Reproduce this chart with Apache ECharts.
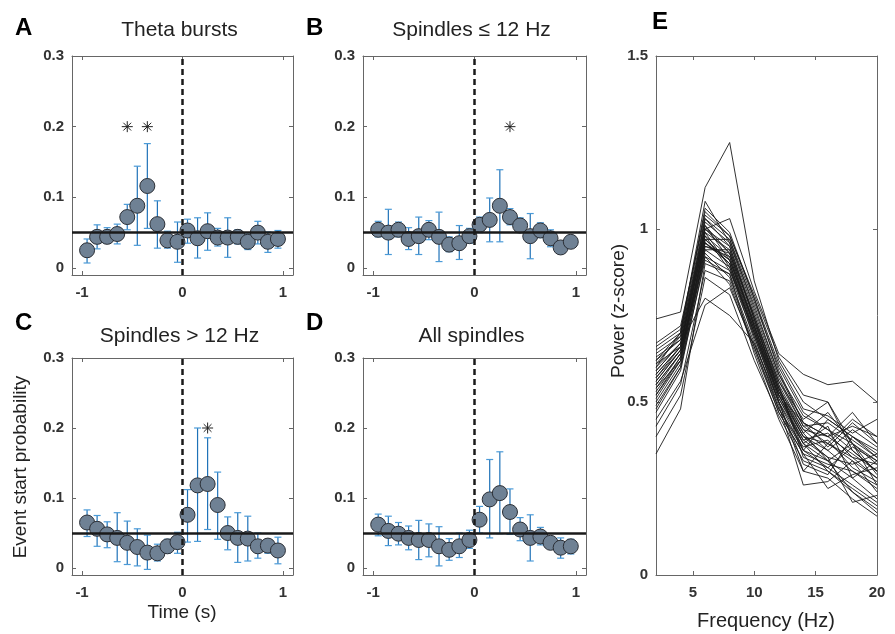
<!DOCTYPE html>
<html>
<head>
<meta charset="utf-8">
<title>Event start probability</title>
<script src="https://cdn.jsdelivr.net/npm/echarts@6/dist/echarts.min.js"></script>
<style>
    html, body { margin:0; padding:0; background:#fff; }
    #main { width:895px; height:634px; }
</style>
</head>
<body>
<div id="main"></div>
<script>
// time bins (s) shared by panels A-D
var timeBins = [-0.95,-0.85,-0.75,-0.65,-0.55,-0.45,-0.35,-0.25,-0.15,-0.05,0.05,0.15,0.25,0.35,0.45,0.55,0.65,0.75,0.85,0.95];

// A - theta bursts
var thetaMean = [0.025,0.044,0.044,0.048,0.072,0.088,0.116,0.062,0.039,0.037,0.053,0.042,0.052,0.043,0.043,0.044,0.037,0.050,0.037,0.041];
var thetaLow  = [0.007,0.027,0.035,0.034,0.054,0.032,0.056,0.028,0.028,0.008,0.035,0.014,0.025,0.031,0.015,0.034,0.026,0.034,0.022,0.028];
var thetaHigh = [0.041,0.061,0.057,0.062,0.090,0.144,0.176,0.095,0.052,0.065,0.069,0.071,0.078,0.056,0.071,0.054,0.048,0.066,0.051,0.053];
var thetaStars = [-0.55,-0.35];

// B - spindles <= 12 Hz
var slowMean = [0.054,0.050,0.054,0.041,0.045,0.054,0.044,0.033,0.035,0.045,0.061,0.068,0.088,0.072,0.060,0.045,0.053,0.042,0.029,0.037];
var slowLow  = [0.044,0.019,0.044,0.026,0.019,0.040,0.009,0.023,0.012,0.035,0.050,0.037,0.037,0.061,0.050,0.013,0.043,0.030,0.022,0.030];
var slowHigh = [0.066,0.083,0.065,0.057,0.072,0.067,0.079,0.044,0.060,0.056,0.072,0.099,0.139,0.084,0.071,0.077,0.064,0.054,0.037,0.044];
var slowStars = [0.35];

// C - spindles > 12 Hz
var fastMean = [0.065,0.056,0.048,0.043,0.036,0.030,0.022,0.021,0.031,0.037,0.076,0.118,0.120,0.090,0.050,0.043,0.042,0.031,0.032,0.025];
var fastLow  = [0.045,0.031,0.029,0.009,0.005,0.003,-0.002,0.010,0.021,0.021,0.037,0.038,0.055,0.041,0.026,0.008,0.010,0.014,0.021,0.006];
var fastHigh = [0.083,0.075,0.066,0.079,0.067,0.056,0.047,0.034,0.041,0.051,0.112,0.200,0.186,0.137,0.073,0.079,0.074,0.050,0.040,0.044];
var fastStars = [0.25];

// D - all spindles
var allMean = [0.062,0.053,0.049,0.043,0.040,0.040,0.031,0.026,0.031,0.040,0.069,0.098,0.107,0.080,0.055,0.043,0.045,0.036,0.029,0.031];
var allLow  = [0.046,0.032,0.033,0.026,0.012,0.016,0.003,0.011,0.015,0.028,0.050,0.043,0.049,0.048,0.039,0.010,0.033,0.029,0.014,0.020];
var allHigh = [0.077,0.074,0.065,0.060,0.068,0.063,0.059,0.042,0.050,0.054,0.088,0.155,0.166,0.113,0.072,0.076,0.058,0.041,0.043,0.041];
var allStars = [];

var chanceLevel = 0.05;

// E - power spectra, one line per recording
var freqs = [2,4,6,8,10,12,14,16,18,20];
var spectra = [
    [0.58,0.66,0.98,0.92,0.72,0.52,0.40,0.38,0.33,0.28],
    [0.62,0.68,1.00,0.95,0.75,0.55,0.42,0.36,0.30,0.25],
    [0.55,0.64,0.96,0.90,0.70,0.50,0.38,0.43,0.28,0.33],
    [0.74,0.76,1.12,1.25,0.85,0.62,0.50,0.45,0.40,0.35],
    [0.60,0.70,1.08,0.96,0.78,0.58,0.44,0.40,0.35,0.30],
    [0.52,0.62,0.95,0.93,0.73,0.54,0.41,0.33,0.38,0.26],
    [0.48,0.60,0.94,0.89,0.68,0.48,0.36,0.33,0.28,0.22],
    [0.65,0.70,1.03,0.97,0.79,0.60,0.47,0.42,0.38,0.33],
    [0.57,0.65,0.92,0.88,0.70,0.52,0.38,0.30,0.25,0.20],
    [0.45,0.56,0.78,0.83,0.66,0.47,0.35,0.32,0.30,0.26],
    [0.40,0.52,0.86,0.81,0.62,0.46,0.33,0.30,0.24,0.18],
    [0.35,0.48,0.90,0.87,0.64,0.45,0.30,0.28,0.22,0.17],
    [0.63,0.68,1.00,1.03,0.82,0.64,0.58,0.55,0.56,0.50],
    [0.59,0.67,0.99,0.94,0.74,0.56,0.45,0.50,0.36,0.30],
    [0.53,0.63,0.97,0.91,0.71,0.51,0.39,0.41,0.34,0.32],
    [0.50,0.61,0.93,0.86,0.67,0.49,0.26,0.27,0.33,0.24],
    [0.56,0.65,1.01,0.93,0.72,0.53,0.40,0.36,0.42,0.37],
    [0.61,0.69,1.02,0.96,0.76,0.57,0.43,0.44,0.39,0.34],
    [0.54,0.64,0.96,0.90,0.69,0.50,0.30,0.38,0.45,0.40],
    [0.66,0.71,1.05,0.98,0.80,0.61,0.48,0.46,0.41,0.45],
    [0.47,0.59,0.92,0.84,0.65,0.47,0.35,0.25,0.29,0.31],
    [0.58,0.66,0.98,0.88,0.71,0.52,0.39,0.34,0.21,0.23],
    [0.51,0.62,0.94,0.94,0.74,0.54,0.42,0.40,0.43,0.40],
    [0.64,0.69,1.01,0.91,0.73,0.55,0.34,0.31,0.37,0.33],
    [0.43,0.55,0.88,0.85,0.66,0.48,0.37,0.39,0.31,0.27],
    [0.60,0.67,0.97,0.97,0.77,0.58,0.46,0.42,0.36,0.30],
    [0.57,0.66,1.03,0.95,0.74,0.53,0.41,0.47,0.38,0.29],
    [0.55,0.64,0.99,0.89,0.70,0.51,0.38,0.33,0.24,0.19],
    [0.62,0.70,1.06,0.99,0.80,0.59,0.44,0.37,0.44,0.38],
    [0.52,0.63,0.95,0.92,0.72,0.53,0.40,0.34,0.32,0.35],
    [0.59,0.67,0.80,0.75,0.67,0.50,0.36,0.31,0.26,0.21],
    [0.49,0.60,0.91,0.87,0.69,0.50,0.32,0.29,0.40,0.36],
    [0.67,0.72,1.04,0.98,0.81,0.63,0.52,0.50,0.38,0.32],
    [0.54,0.62,0.97,0.90,0.71,0.52,0.44,0.40,0.47,0.38],
    [0.61,0.66,1.00,0.93,0.75,0.56,0.43,0.38,0.34,0.28],
    [0.56,0.65,0.96,0.91,0.72,0.54,0.36,0.45,0.40,0.34]
];

var FONT = '"Liberation Sans", Arial, sans-serif';
var panels = [
    {letter:'A', title:'Theta bursts',      mean:thetaMean, low:thetaLow, high:thetaHigh, stars:thetaStars, grid:{left:72,  top:56,  width:221, height:219}},
    {letter:'B', title:'Spindles \u2264 12 Hz', mean:slowMean, low:slowLow, high:slowHigh, stars:slowStars, grid:{left:363, top:56,  width:223, height:219}},
    {letter:'C', title:'Spindles > 12 Hz',  mean:fastMean, low:fastLow, high:fastHigh, stars:fastStars, grid:{left:72,  top:358, width:221, height:217}},
    {letter:'D', title:'All spindles',      mean:allMean, low:allLow, high:allHigh, stars:allStars, grid:{left:363, top:358, width:223, height:217}}
];

function errItem(params, api) {
    var x = api.value(0);
    var lo = api.coord([x, api.value(1)]);
    var hi = api.coord([x, api.value(2)]);
    var w = 3.5;
    return {type:'group', children:[
        {type:'line', shape:{x1:lo[0], y1:lo[1], x2:hi[0], y2:hi[1]}, style:{stroke:'#1f72b8', lineWidth:1.2}},
        {type:'line', shape:{x1:lo[0]-w, y1:lo[1], x2:lo[0]+w, y2:lo[1]}, style:{stroke:'#4b9bd8', lineWidth:1.2}},
        {type:'line', shape:{x1:hi[0]-w, y1:hi[1], x2:hi[0]+w, y2:hi[1]}, style:{stroke:'#4b9bd8', lineWidth:1.2}}
    ]};
}

function starItem(params, api) {
    var p = api.coord([api.value(0), api.value(1)]);
    var r = 5.5, d = r * 0.7071;
    var segs = [[-r,0,r,0],[0,-r,0,r],[-d,-d,d,d],[-d,d,d,-d]];
    return {type:'group', children: segs.map(function (s) {
        return {type:'line', shape:{x1:p[0]+s[0], y1:p[1]+s[1], x2:p[0]+s[2], y2:p[1]+s[3]}, style:{stroke:'#222', lineWidth:1}};
    })};
}

var axisLine = {show:true, onZero:false, lineStyle:{color:'#666', width:1}};
var tickLabel = {color:'#333', fontSize:15, fontWeight:'bold', fontFamily:FONT};

var grids = [], xAxes = [], yAxes = [], series = [], graphics = [];

panels.forEach(function (p, i) {
    grids.push(p.grid);
    var xMain = xAxes.length;
    xAxes.push({gridIndex:i, type:'value', min:-1.1, max:1.1, position:'bottom',
        axisLine:axisLine, splitLine:{show:false},
        axisTick:{inside:true, length:4, customValues:[-1,0,1], lineStyle:{color:'#666'}},
        axisLabel:Object.assign({customValues:[-1,0,1], margin:10}, tickLabel)});
    xAxes.push({gridIndex:i, type:'value', min:-1.1, max:1.1, position:'top',
        axisLine:axisLine, splitLine:{show:false}, axisLabel:{show:false},
        axisTick:{inside:true, length:4, customValues:[-1,0,1], lineStyle:{color:'#666'}}});
    var yMain = yAxes.length;
    yAxes.push({gridIndex:i, type:'value', min:-0.01, max:0.3, position:'left',
        axisLine:axisLine, splitLine:{show:false},
        axisTick:{inside:true, length:4, customValues:[0,0.1,0.2,0.3], lineStyle:{color:'#666'}},
        axisLabel:Object.assign({customValues:[0,0.1,0.2,0.3], margin:8}, tickLabel)});
    yAxes.push({gridIndex:i, type:'value', min:-0.01, max:0.3, position:'right',
        axisLine:axisLine, splitLine:{show:false}, axisLabel:{show:false},
        axisTick:{inside:true, length:4, customValues:[0,0.1,0.2,0.3], lineStyle:{color:'#666'}}});

    series.push({
        type:'custom', xAxisIndex:xMain, yAxisIndex:yMain, z:2, silent:true,
        renderItem:errItem, encode:{x:0, y:[1,2]},
        data: timeBins.map(function (t, k) { return [t, p.low[k], p.high[k]]; }),
        markLine:{silent:true, symbol:'none', label:{show:false}, animation:false,
            data:[
                {yAxis:chanceLevel, lineStyle:{color:'#1a1a1a', width:2.5, type:'solid'}},
                {xAxis:0, lineStyle:{color:'#1a1a1a', width:2.5, type:[6,4]}}
            ]}
    });
    series.push({
        type:'scatter', xAxisIndex:xMain, yAxisIndex:yMain, z:4, silent:true,
        symbol:'circle', symbolSize:15,
        itemStyle:{color:'#6f8194', borderColor:'#2b2f36', borderWidth:1, opacity:1},
        data: timeBins.map(function (t, k) { return [t, p.mean[k]]; })
    });
    if (p.stars.length) {
        series.push({
            type:'custom', xAxisIndex:xMain, yAxisIndex:yMain, z:5, silent:true,
            renderItem:starItem,
            data: p.stars.map(function (t) { return [t, 0.2]; })
        });
    }

    var titleY = i < 2 ? p.grid.top - 26 : p.grid.top - 22;
    graphics.push({type:'text', x:p.grid.left - 57, y:i < 2 ? 28 : 323,
        style:{text:p.letter, font:'bold 24px ' + FONT, fill:'#000', textAlign:'left', textVerticalAlign:'middle'}});
    graphics.push({type:'text', x:p.grid.left + p.grid.width / 2 - 3, y:titleY,
        style:{text:p.title, font:'21px ' + FONT, fill:'#222', textAlign:'center', textVerticalAlign:'middle'}});
});

// panel E
grids.push({left:656, top:56, width:221, height:519});
var xE = xAxes.length, yE = yAxes.length;
xAxes.push({gridIndex:4, type:'value', min:2, max:20, position:'bottom',
    axisLine:axisLine, splitLine:{show:false},
    axisTick:{inside:true, length:4, customValues:[5,10,15,20], lineStyle:{color:'#666'}},
    axisLabel:Object.assign({customValues:[5,10,15,20], margin:10}, tickLabel)});
xAxes.push({gridIndex:4, type:'value', min:2, max:20, position:'top',
    axisLine:axisLine, splitLine:{show:false}, axisLabel:{show:false},
    axisTick:{inside:true, length:4, customValues:[5,10,15,20], lineStyle:{color:'#666'}}});
yAxes.push({gridIndex:4, type:'value', min:0, max:1.5, interval:0.5, position:'left',
    axisLine:axisLine, splitLine:{show:false},
    axisTick:{inside:true, length:4, lineStyle:{color:'#666'}},
    axisLabel:Object.assign({margin:8}, tickLabel)});
yAxes.push({gridIndex:4, type:'value', min:0, max:1.5, interval:0.5, position:'right',
    axisLine:axisLine, splitLine:{show:false}, axisLabel:{show:false},
    axisTick:{inside:true, length:4, lineStyle:{color:'#666'}}});

spectra.forEach(function (row) {
    series.push({
        type:'line', xAxisIndex:xE, yAxisIndex:yE, silent:true, symbol:'none',
        lineStyle:{color:'#1a1a1a', width:0.9}, z:3,
        data: freqs.map(function (f, k) { return [f, row[k]]; })
    });
});

graphics.push({type:'text', x:652, y:22,
    style:{text:'E', font:'bold 24px ' + FONT, fill:'#000', textAlign:'left', textVerticalAlign:'middle'}});
graphics.push({type:'text', x:766, y:621,
    style:{text:'Frequency (Hz)', font:'20px ' + FONT, fill:'#222', textAlign:'center', textVerticalAlign:'middle'}});
graphics.push({type:'text', x:182, y:613,
    style:{text:'Time (s)', font:'19px ' + FONT, fill:'#222', textAlign:'center', textVerticalAlign:'middle'}});
graphics.push({type:'text', x:21, y:467, rotation:Math.PI / 2,
    style:{text:'Event start probability', font:'19px ' + FONT, fill:'#222', textAlign:'center', textVerticalAlign:'middle'}});
graphics.push({type:'text', x:619, y:311, rotation:Math.PI / 2,
    style:{text:'Power (z-score)', font:'19px ' + FONT, fill:'#222', textAlign:'center', textVerticalAlign:'middle'}});

var chart = echarts.init(document.getElementById('main'));
chart.setOption({
    backgroundColor:'#fff',
    animation:false,
    grid:grids,
    xAxis:xAxes,
    yAxis:yAxes,
    series:series,
    graphic:graphics
});
</script>
</body>
</html>
